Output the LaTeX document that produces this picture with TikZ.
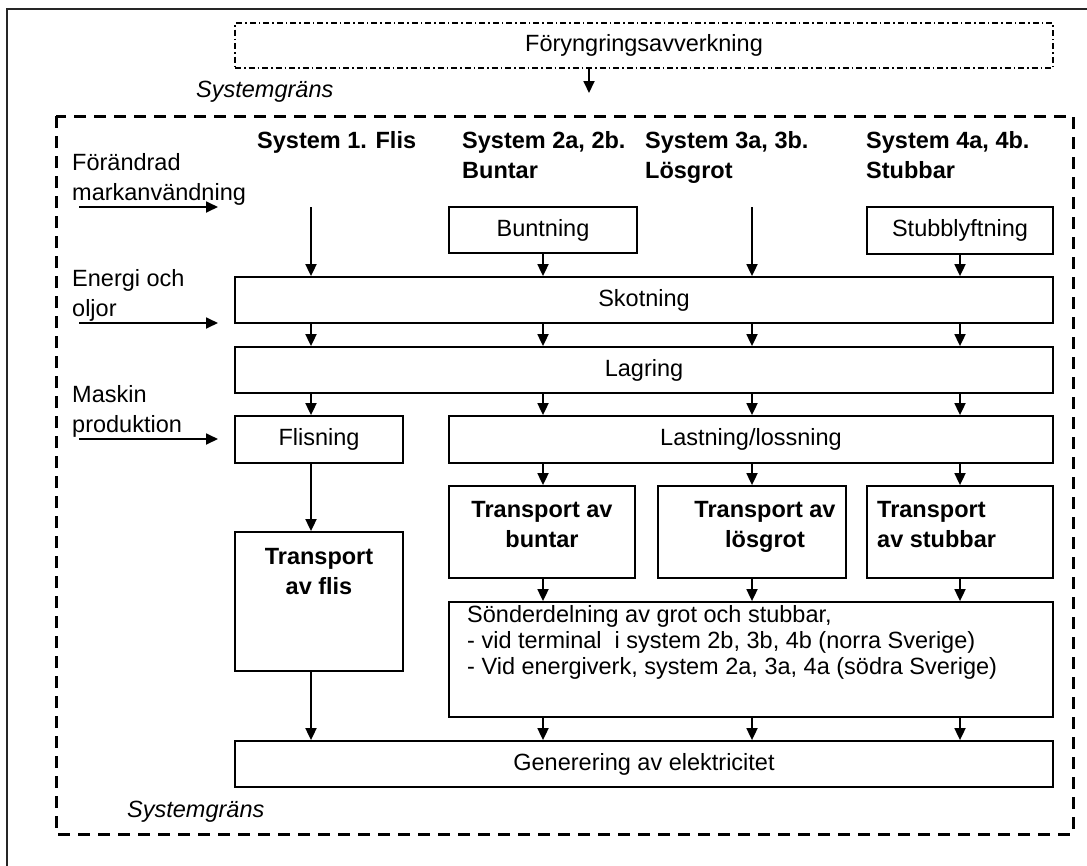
\documentclass[tikz,border=0pt]{standalone}
\usepackage{fontspec}
\setmainfont{Liberation Sans}
\usetikzlibrary{arrows.meta}
\begin{document}
\begin{tikzpicture}[x=1pt,y=-1pt,
  txt/.style={font=\fontsize{23.5}{30}\selectfont, inner sep=0pt, align=left},
  bld/.style={font=\fontsize{23.5}{30}\selectfont\bfseries, inner sep=0pt},
  itl/.style={font=\fontsize{23.5}{30}\selectfont\itshape, inner sep=0pt},
  box/.style={draw, line width=1.8pt, inner sep=0pt, font=\fontsize{23.5}{30}\selectfont},
  arr/.style={draw, line width=1.8pt, -{Triangle[length=12pt,width=11pt]}},
  ddbox/.style={draw, line width=1.1pt, dash pattern=on 6pt off 3pt on 1.5pt off 3pt, inner sep=0pt, font=\fontsize{23.5}{30}\selectfont},
  bound/.style={draw, line width=3pt, dash pattern=on 12pt off 8pt},
]
\useasboundingbox (0,0) rectangle (1087,865);
\fill[white] (0,0) rectangle (1087,865);
% outer frame
\draw[line width=1.6pt, black!85] (7,880) -- (7,9) -- (1100,9);

% top box
\node[ddbox, minimum width=818pt, minimum height=45pt] (top) at (644,45.5) {Föryngringsavverkning};
\coordinate (a1) at (589,93);
\draw[arr] (top.south -| a1) -- (a1);

% system boundary
\draw[bound] (56,116) rectangle (1073,834);
\node[itl, anchor=west] (sg1) at (196,92) {Systemgräns};
\node[itl, anchor=west] (sg2) at (127,812) {Systemgräns};

% headers
\node[bld, anchor=north west] (h1) at (257,131.5) {System 1. Flis};
\node[bld, anchor=north west, align=left] (h2) at (462,131.5) {System 2a, 2b.\\Buntar};
\node[bld, anchor=north west, align=left] (h3) at (645,131.5) {System 3a, 3b.\\Lösgrot};
\node[bld, anchor=north west, align=left] (h4) at (866,131.5) {System 4a, 4b.\\Stubbar};

% left inputs
\node[txt, anchor=north west] (l1) at (72,153.5) {Förändrad\\markanvändning};
\node[txt, anchor=north west] (l2) at (72,269.5) {Energi och\\oljor};
\node[txt, anchor=north west] (l3) at (72,385.5) {Maskin\\produktion};
\coordinate (i1s) at (79,207); \coordinate (i1e) at (218,207);
\coordinate (i2s) at (79,323); \coordinate (i2e) at (218,323);
\coordinate (i3s) at (79,439); \coordinate (i3e) at (218,439);
\draw[arr] (i1s) -- (i1e);
\draw[arr] (i2s) -- (i2e);
\draw[arr] (i3s) -- (i3e);

% columns
\coordinate (c1) at (311,207);
\coordinate (c2) at (543,207);
\coordinate (c3) at (752,207);
\coordinate (c4) at (960,207);

% boxes
\node[box, minimum width=188pt, minimum height=46pt] (bunt) at (543,230) {Buntning};
\node[box, minimum width=186pt, minimum height=47pt] (stub) at (960,230.5) {Stubblyftning};
\node[box, minimum width=818pt, minimum height=46pt] (skot) at (644,300) {Skotning};
\node[box, minimum width=818pt, minimum height=46pt] (lag) at (644,370) {Lagring};
\node[box, minimum width=168pt, minimum height=47pt] (flis) at (319,439.5) {Flisning};
\node[box, minimum width=604pt, minimum height=47pt] (last) at (751,439.5) {Lastning/lossning};
\node[box, minimum width=186pt, minimum height=92pt] (tb) at (542,532) {};
\node[box, minimum width=188pt, minimum height=92pt] (tl) at (752,532) {};
\node[box, minimum width=186pt, minimum height=92pt] (ts) at (960,532) {};
\node[box, minimum width=168pt, minimum height=139pt] (tf) at (319,601.5) {};
\node[box, minimum width=604pt, minimum height=115pt] (sond) at (751,659.5) {};
\node[box, minimum width=818pt, minimum height=46pt] (gen) at (644,764) {Generering av elektricitet};

% box texts
\node[bld, anchor=north, align=center] (tbt) at (542,501.5) {Transport av\\buntar};
\node[bld, anchor=north, align=center] (tlt) at (765,501.5) {Transport av\\lösgrot};
\node[bld, anchor=north west, align=left] (tst) at (877,501.5) {Transport\\av stubbar};
\node[bld, anchor=north, align=center] (tft) at (319,548.5) {Transport\\av flis};
\node[txt, anchor=north west, font=\fontsize{23.5}{26}\selectfont] (sondt) at (467,605) {Sönderdelning av grot och stubbar,\\- vid terminal\ \ i system 2b, 3b, 4b (norra Sverige)\\- Vid energiverk, system 2a, 3a, 4a (södra Sverige)};

% arrows
\draw[arr] (c1) -- (skot.north -| c1);
\draw[arr] (bunt.south) -- (skot.north -| bunt.south);
\draw[arr] (c3) -- (skot.north -| c3);
\draw[arr] (stub.south) -- (skot.north -| stub.south);
\foreach \c in {c1,c2,c3,c4} {
  \draw[arr] (skot.south -| \c) -- (lag.north -| \c);
}
\draw[arr] (lag.south -| c1) -- (flis.north -| c1);
\foreach \c in {c2,c3,c4} {
  \draw[arr] (lag.south -| \c) -- (last.north -| \c);
  \draw[arr] (last.south -| \c) -- (tb.north -| \c);
  \draw[arr] (tb.south -| \c) -- (sond.north -| \c);
  \draw[arr] (sond.south -| \c) -- (gen.north -| \c);
}
\draw[arr] (flis.south -| c1) -- (tf.north -| c1);
\draw[arr] (tf.south -| c1) -- (gen.north -| c1);
\end{tikzpicture}
\end{document}
